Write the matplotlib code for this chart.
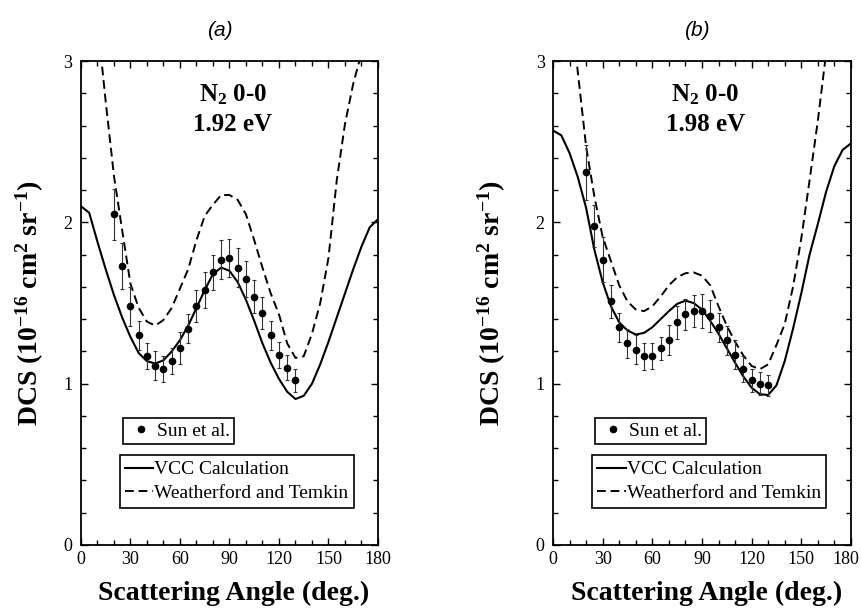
import matplotlib
matplotlib.use("Agg")
import matplotlib.pyplot as plt
import matplotlib.transforms as mtrans
from matplotlib.ticker import MultipleLocator
from matplotlib.lines import Line2D

plt.rcParams['font.family'] = ['Liberation Serif', 'DejaVu Serif']
plt.rcParams['mathtext.fontset'] = 'custom'
plt.rcParams['mathtext.rm'] = 'Liberation Serif'
plt.rcParams['mathtext.bf'] = 'Liberation Serif:bold'
plt.rcParams['mathtext.default'] = 'bf'

# Sun et al. measurements (same angles in both panels)
exp_angle = [20, 25, 30, 35, 40, 45, 50, 55, 60, 65, 70, 75, 80, 85, 90,
             95, 100, 105, 110, 115, 120, 125, 130]

exp_a = [2.05, 1.73, 1.48, 1.30, 1.17, 1.11, 1.09, 1.14, 1.22, 1.34, 1.48, 1.58,
         1.69, 1.77, 1.78, 1.72, 1.65, 1.54, 1.44, 1.30, 1.18, 1.10, 1.02]
err_a = [0.16, 0.14, 0.12, 0.09, 0.08, 0.09, 0.08, 0.08, 0.10, 0.09, 0.10, 0.11,
         0.11, 0.12, 0.12, 0.12, 0.11, 0.10, 0.10, 0.09, 0.08, 0.08, 0.07]

exp_b = [2.31, 1.98, 1.77, 1.51, 1.35, 1.25, 1.21, 1.17, 1.17, 1.22, 1.27, 1.38,
         1.43, 1.45, 1.45, 1.42, 1.35, 1.27, 1.18, 1.09, 1.02, 1.00, 0.99]
err_b = [0.17, 0.13, 0.14, 0.10, 0.09, 0.09, 0.09, 0.085, 0.08, 0.07, 0.095, 0.10,
         0.095, 0.10, 0.105, 0.10, 0.09, 0.09, 0.09, 0.08, 0.07, 0.07, 0.065]

# theory curves, every 5 degrees
theory_angle = list(range(0, 181, 5))

vcc_a = [2.10, 2.06, 1.88, 1.71, 1.55, 1.41, 1.29, 1.19, 1.14, 1.125, 1.145, 1.20,
         1.27, 1.36, 1.47, 1.58, 1.68, 1.72, 1.70, 1.63, 1.52, 1.39, 1.25, 1.13,
         1.03, 0.95, 0.905, 0.925, 1.00, 1.12, 1.26, 1.41, 1.56, 1.71, 1.85, 1.97, 2.02]
wt_a = [3.90, 3.60, 3.25, 2.75, 2.29, 1.95, 1.62, 1.47, 1.385, 1.36, 1.395, 1.47,
        1.59, 1.71, 1.89, 2.04, 2.11, 2.17, 2.17, 2.14, 2.05, 1.89, 1.72, 1.56,
        1.43, 1.25, 1.16, 1.17, 1.31, 1.50, 1.78, 2.26, 2.61, 2.86, 3.05, 3.30, 3.60]

vcc_b = [2.57, 2.54, 2.43, 2.28, 2.09, 1.83, 1.63, 1.48, 1.38, 1.33, 1.305, 1.315,
         1.35, 1.40, 1.45, 1.495, 1.515, 1.50, 1.46, 1.39, 1.31, 1.22, 1.13, 1.045,
         0.975, 0.935, 0.93, 0.99, 1.14, 1.34, 1.56, 1.80, 1.99, 2.19, 2.35, 2.45, 2.49]
wt_b = [4.30, 3.90, 3.41, 2.93, 2.47, 2.16, 1.91, 1.76, 1.61, 1.51, 1.46, 1.45,
        1.48, 1.54, 1.61, 1.66, 1.685, 1.69, 1.67, 1.61, 1.48, 1.36, 1.26, 1.175,
        1.11, 1.09, 1.12, 1.24, 1.37, 1.60, 1.90, 2.26, 2.63, 3.05, 3.50, 3.90, 4.30]

x_ticks = [0, 30, 60, 90, 120, 150, 180]
y_ticks = [0, 1, 2, 3]


def draw_panel(ax, exp, err, vcc, wt, energy, tag, tag_x, ylab_x):
    ax.plot(theory_angle, vcc, color='black', lw=1.5, label='VCC Calculation')
    ax.plot(theory_angle, wt, color='black', lw=1.4, dashes=(4.5, 2.5),
            label='Weatherford and Temkin')
    ax.errorbar(exp_angle, exp, yerr=err, fmt='o', color='black', ms=4.5,
                ecolor='#333333', elinewidth=0.8, capsize=1.5, capthick=0.8)

    ax.set_xlim(0, 180)
    ax.set_ylim(0, 3)
    ax.set_xticks(x_ticks)
    ax.set_yticks(y_ticks)
    ax.xaxis.set_minor_locator(MultipleLocator(10))
    ax.yaxis.set_minor_locator(MultipleLocator(0.2))
    ax.tick_params(which='both', direction='in', top=True, right=True,
                   width=1.0, labelsize=13)
    ax.tick_params(which='major', length=5)
    ax.tick_params(which='minor', length=3.5)
    ax.tick_params(axis='x', pad=4)
    ax.tick_params(axis='y', pad=6)
    for sp in ax.spines.values():
        sp.set_linewidth(1.3)

    ax.set_xlabel('Scattering Angle (deg.)', fontsize=20, fontweight='bold')
    ax.xaxis.set_label_coords(0.515, -0.074)
    ax.set_ylabel(r'DCS (10$^{-16}$ cm$^{2}$ sr$^{-1}$)',
                  fontsize=20, fontweight='bold')
    ax.yaxis.set_label_coords(ylab_x, 0.5)

    ax.text(92, 2.79, r'N$_{2}$ 0-0', ha='center', va='center',
            fontsize=18, fontweight='bold')
    ax.text(92, 2.61, energy, ha='center', va='center',
            fontsize=18, fontweight='bold')
    ax.text(tag_x, 1.064, tag, transform=ax.transAxes, ha='center', va='center',
            fontsize=15, style='italic', family='Liberation Sans')

    # two separate boxed legends
    dot = Line2D([], [], marker='o', ls='none', color='black', ms=4.5)
    leg1 = ax.legend([dot], ['Sun et al.'], loc='lower left',
                     bbox_to_anchor=(0.141, 0.209), borderaxespad=0,
                     fontsize=14, fancybox=False, edgecolor='black', framealpha=1,
                     handlelength=1.45, handletextpad=0.1, borderpad=0.2)
    leg1.get_frame().set_linewidth(1.2)
    ax.add_artist(leg1)
    lines = ax.get_lines()[:2]
    leg2 = ax.legend(lines, [l.get_label() for l in lines], loc='lower left',
                     bbox_to_anchor=(0.131, 0.077), borderaxespad=0,
                     fontsize=14, fancybox=False, edgecolor='black', framealpha=1,
                     handlelength=1.45, handletextpad=0.05, borderpad=0.28,
                     labelspacing=0.32)
    leg2.get_frame().set_linewidth(1.2)


fig = plt.figure(figsize=(8.61, 6.14), dpi=100)
ax_a = fig.add_axes([0.094, 0.1124, 0.345, 0.788])
ax_b = fig.add_axes([0.6423, 0.1124, 0.346, 0.788])

draw_panel(ax_a, exp_a, err_a, vcc_a, wt_a, '1.92 eV', '(a)', 0.468, -0.118)
draw_panel(ax_b, exp_b, err_b, vcc_b, wt_b, '1.98 eV', '(b)', 0.483, -0.151)

# last tick label of panel (b) sits at the figure edge; nudge it inside
last = ax_b.get_xticklabels()[-1]
last.set_transform(last.get_transform() +
                   mtrans.ScaledTranslation(-4 / 72, 0, fig.dpi_scale_trans))

fig.savefig('out.png', dpi=100)
